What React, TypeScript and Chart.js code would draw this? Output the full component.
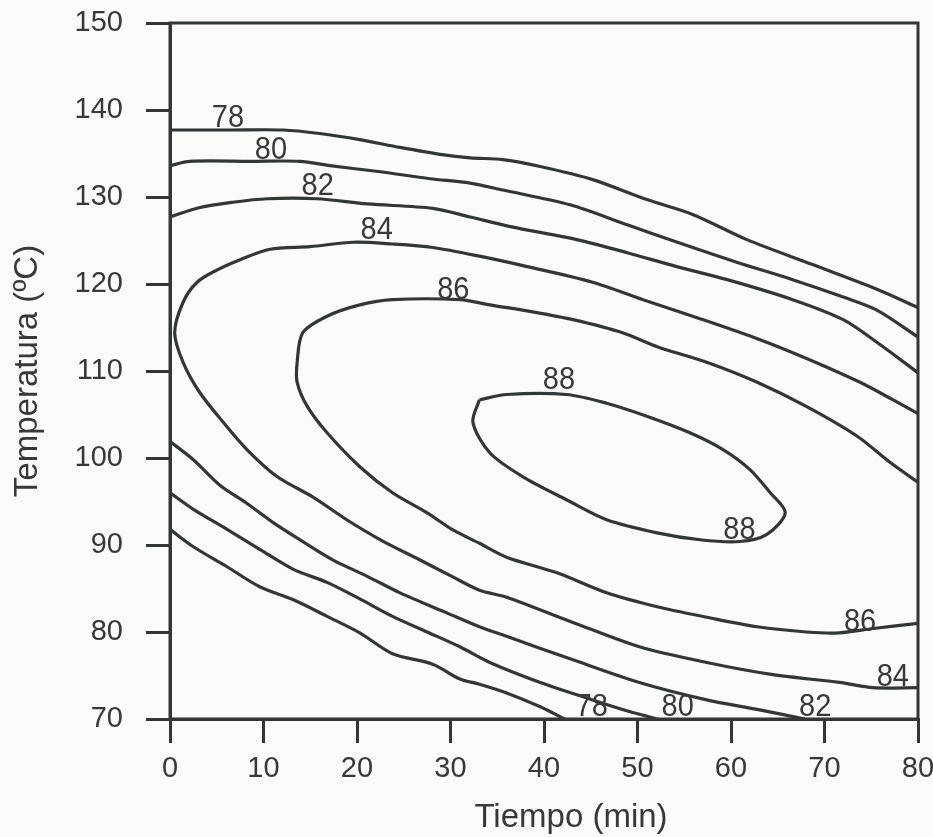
import React, { useEffect, useRef } from 'react';
import { Chart, registerables } from 'chart.js';

Chart.register(...registerables);

// Axis ranges (Tiempo in min, Temperatura in ºC)
const tiempoRange = [0, 80];
const temperaturaRange = [70, 150];
const tickStep = 10;

// Iso-response contour lines: [tiempo, temperatura]
const iso78Upper: number[][] = [
  [0, 137.7], [6.4, 137.7], [12.1, 137.7], [16.0, 137.3], [20.3, 136.6], [24.6, 135.7],
  [28.9, 134.9], [32.1, 134.5], [35.6, 134.3], [39.6, 133.5], [45.2, 132.0], [51.0, 129.7],
  [55.9, 128.0], [61.7, 125.1], [68.8, 122.2], [75.6, 119.4], [80, 117.3],
];
const iso80Upper: number[][] = [
  [0, 133.6], [2.1, 134.1], [8.6, 134.1], [13.9, 134.1], [17.1, 133.6], [22.5, 132.9],
  [27.8, 132.1], [32.1, 131.6], [35.6, 130.8], [42.8, 129.1], [48.9, 126.8], [54.5, 124.7],
  [60.6, 122.5], [66.6, 120.5], [72.0, 118.5], [75.6, 117.0], [80, 113.9],
];
const iso82Upper: number[][] = [
  [0, 127.7], [3.2, 128.8], [6.7, 129.4], [10.4, 129.8], [15.7, 129.8], [21.1, 129.2],
  [28.1, 128.7], [32.1, 127.7], [36.4, 126.6], [43.5, 125.1], [48.9, 123.6], [54.2, 122.0],
  [59.6, 120.5], [66.6, 118.2], [72.0, 115.9], [75.6, 113.3], [80, 109.8],
];
const iso84: number[][] = [
  [80, 105.1], [77.3, 106.7], [73.8, 108.7], [68.4, 111.3], [63.1, 113.6], [55.9, 116.3],
  [50.6, 118.2], [45.2, 120.2], [38.2, 122.0], [33.1, 123.2], [28.1, 124.2], [23.8, 124.6],
  [19.6, 124.8], [15.0, 124.3], [10.7, 124.0], [7.5, 122.8], [5.0, 121.6], [2.9, 120.2],
  [1.4, 117.9], [0.5, 114.4], [1.4, 111.0], [3.2, 107.5], [5.7, 104.1], [8.2, 101.0],
  [11.4, 97.9], [15.3, 95.5], [18.9, 92.9], [22.5, 90.6], [26.7, 88.3], [30.3, 86.3],
  [33.1, 84.8], [36.0, 84.0], [43.1, 81.1], [50.2, 78.3], [57.4, 76.5], [64.5, 75.1],
  [71.6, 74.2], [75.2, 73.6], [80, 73.6],
];
const iso86: number[][] = [
  [80, 97.2], [77.0, 99.5], [73.5, 102.5], [68.1, 105.9], [62.8, 108.7], [57.4, 111.0],
  [52.1, 112.8], [48.4, 114.4], [43.1, 115.9], [38.8, 116.8], [34.2, 117.6], [31.0, 118.2],
  [23.8, 118.2], [20.3, 117.6], [16.8, 116.3], [14.2, 114.4], [13.6, 111.0], [13.6, 108.7],
  [14.7, 105.9], [16.8, 102.9], [20.3, 99.0], [23.8, 96.0], [27.5, 93.7], [30.3, 91.7],
  [33.1, 90.2], [36.0, 88.6], [41.4, 86.8], [46.7, 84.5], [52.1, 82.9], [57.4, 81.7],
  [62.8, 80.6], [68.1, 80.0], [71.6, 79.9], [75.2, 80.4], [80, 81.0],
];
const iso88: number[][] = [
  [33.1, 106.7], [36.0, 107.3], [42.4, 107.3], [46.7, 106.3], [51.0, 104.8], [55.6, 102.9],
  [59.1, 101.0], [62.0, 98.7], [64.2, 96.0], [65.8, 93.7], [63.8, 91.2], [60.9, 90.4],
  [56.7, 90.6], [52.1, 91.4], [46.7, 92.9], [42.4, 95.2], [37.8, 97.8], [34.2, 100.6],
  [32.4, 104.1], [33.1, 106.7],
];
const iso82Lower: number[][] = [
  [0, 101.9], [2.5, 99.8], [5.3, 96.9], [8.2, 94.8], [11.0, 92.6], [13.9, 90.6],
  [17.4, 88.3], [21.1, 86.4], [24.6, 84.5], [29.6, 82.2], [33.1, 80.6], [36.0, 79.5],
  [43.1, 76.8], [50.2, 74.2], [57.4, 72.2], [62.8, 71.1], [67.9, 70.0],
];
const iso80Lower: number[][] = [
  [0, 96.0], [2.5, 94.1], [6.1, 91.8], [9.6, 89.5], [13.2, 87.2], [16.8, 85.7],
  [20.3, 83.8], [23.8, 81.8], [27.5, 80.0], [31.0, 78.3], [34.2, 76.5], [39.6, 74.2],
  [44.9, 72.3], [48.4, 71.1], [52.1, 70.0],
];
const iso78Lower: number[][] = [
  [0, 91.8], [2.5, 89.8], [6.1, 87.5], [9.6, 85.2], [13.2, 83.7], [16.8, 81.8],
  [20.3, 79.9], [23.8, 77.5], [28.1, 76.3], [31.0, 74.6], [33.1, 74.0],
  [36.0, 73.0], [39.6, 71.4], [42.2, 70.0],
];

const contourLines = [
  iso78Upper, iso80Upper, iso82Upper, iso84, iso86, iso88, iso82Lower, iso80Lower, iso78Lower,
];

// Level labels placed beside their contour (text centre, in data units)
const labelLevels = ['78', '80', '82', '84', '86', '88', '88', '86', '84', '82', '80', '78'];
const labelTiempo = [6.2, 10.8, 15.8, 22.1, 30.3, 41.6, 60.9, 73.8, 77.3, 69.0, 54.3, 45.1];
const labelTemperatura = [139.4, 135.7, 131.5, 126.5, 119.6, 109.2, 92.0, 81.4, 75.1, 71.7, 71.7, 71.7];

const xTitle = 'Tiempo (min)';
const yTitle = 'Temperatura (ºC)';

const INK = '#323735';
const TEXT = '#383838';
const FONT = '"Liberation Sans", Arial, Helvetica, sans-serif';
const TICK_SIZE = 29;
const TITLE_SIZE = 33;
const LABEL_SIZE = 29;

const frameAndLabels = {
  id: 'frameAndLabels',
  beforeDraw(chart: any) {
    const { ctx, width, height } = chart;
    ctx.save();
    ctx.fillStyle = '#fbfbfa';
    ctx.fillRect(0, 0, width, height);
    ctx.restore();
  },
  afterDatasetsDraw(chart: any) {
    const { ctx, chartArea, scales } = chart;
    ctx.save();
    ctx.strokeStyle = INK;
    ctx.lineWidth = 3;
    ctx.strokeRect(chartArea.left, chartArea.top, chartArea.right - chartArea.left, chartArea.bottom - chartArea.top);

    ctx.fillStyle = TEXT;
    ctx.font = `${LABEL_SIZE}px ${FONT}`;
    ctx.textAlign = 'center';
    ctx.textBaseline = 'alphabetic';
    labelLevels.forEach((txt, i) => {
      const px = scales.x.getPixelForValue(labelTiempo[i]);
      const py = scales.y.getPixelForValue(labelTemperatura[i]);
      // digits drawn slightly taller than wide, as in the printed figure
      ctx.save();
      ctx.translate(px, py);
      ctx.scale(1, 1.1);
      ctx.fillText(txt, 0, LABEL_SIZE * 0.36);
      ctx.restore();
    });

    // x-axis title, set a little right of the axis centre
    ctx.font = `${TITLE_SIZE}px ${FONT}`;
    ctx.fillText(xTitle, (chartArea.left + chartArea.right) / 2 + 27, chartArea.bottom + 108);
    ctx.restore();
  },
};

export default function App() {
  const canvasRef = useRef<HTMLCanvasElement | null>(null);

  useEffect(() => {
    const canvas = canvasRef.current;
    if (!canvas) return;
    const chart = new Chart(canvas, {
      type: 'scatter',
      data: {
        datasets: contourLines.map((line) => ({
          data: line.map(([t, temp]) => ({ x: t, y: temp })),
          showLine: true,
          borderColor: INK,
          borderWidth: 3.2,
          pointRadius: 0,
          pointHoverRadius: 0,
          tension: 0.3,
          fill: false,
        })),
      },
      options: {
        responsive: false,
        animation: false,
        events: [],
        layout: { padding: { top: 23, right: 15, left: 0, bottom: 0 } },
        plugins: {
          legend: { display: false },
          tooltip: { enabled: false },
        },
        scales: {
          x: {
            type: 'linear',
            min: tiempoRange[0],
            max: tiempoRange[1],
            afterFit: (scale: any) => {
              scale.height = 118;
              scale.paddingLeft = 0;
              scale.paddingRight = 0;
            },
            ticks: {
              stepSize: tickStep,
              color: TEXT,
              padding: 9,
              font: { family: FONT, size: TICK_SIZE },
            },
            grid: {
              drawOnChartArea: false,
              drawTicks: true,
              tickLength: 24,
              color: INK,
              lineWidth: 3,
            },
            border: { display: true, color: INK, width: 3 },
            title: { display: false, text: xTitle },
          },
          y: {
            type: 'linear',
            min: temperaturaRange[0],
            max: temperaturaRange[1],
            afterFit: (scale: any) => {
              scale.width = 170;
              scale.paddingTop = 0;
              scale.paddingBottom = 0;
            },
            ticks: {
              stepSize: tickStep,
              color: TEXT,
              padding: 23,
              font: { family: FONT, size: TICK_SIZE },
            },
            grid: {
              drawOnChartArea: false,
              drawTicks: true,
              tickLength: 24,
              color: INK,
              lineWidth: 3,
            },
            border: { display: true, color: INK, width: 3 },
            title: {
              display: true,
              text: yTitle,
              color: TEXT,
              padding: { top: 8, bottom: 0 },
              font: { family: FONT, size: TITLE_SIZE },
            },
          },
        },
      },
      plugins: [frameAndLabels],
    } as any);
    return () => chart.destroy();
  }, []);

  return (
    <div style={{ position: 'absolute', left: 0, top: 0, width: 933, height: 837, background: '#fbfbfa' }}>
      <canvas ref={canvasRef} width={933} height={837} style={{ display: 'block' }} />
    </div>
  );
}
